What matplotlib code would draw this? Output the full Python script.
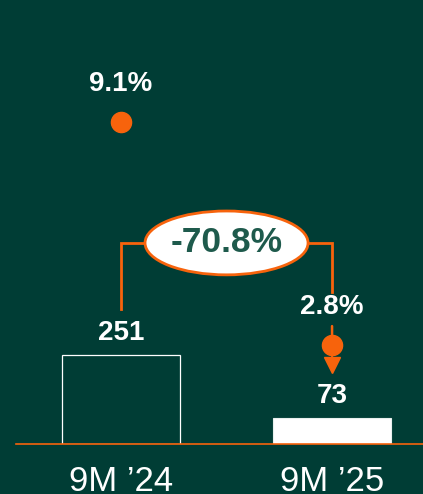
import matplotlib
matplotlib.use("Agg")
import matplotlib.pyplot as plt
from matplotlib.patches import Ellipse
from matplotlib.transforms import offset_copy

# ---- data ----
categories = ["9M \u201924", "9M \u201925"]
values = [251, 73]
margins = [9.1, 2.8]
margin_labels = ["9.1%", "2.8%"]
change_label = "-70.8%"

BG = "#003D35"
ORANGE = "#F7630C"
WHITE = "#FFFFFF"
DARK = "#1E5A4C"
FONT = "Liberation Sans"

W, H = 423, 494
fig = plt.figure(figsize=(W / 100, H / 100), dpi=100, facecolor=BG)
base_px = 444
ax = fig.add_axes([0, (H - base_px) / H, 1, base_px / H])
ax.set_facecolor(BG)
ax2 = ax.twinx()

x = [0, 1]
ax.set_xlim(-0.5735, 1.431)
ax.set_ylim(0, 1252)
ax2.set_ylim(0, 12.54)

for a in (ax, ax2):
    a.axis("off")

# bars
ax.bar(x[0], values[0], width=0.56, facecolor=BG, edgecolor=WHITE, linewidth=0.9, zorder=2)
ax.bar(x[1], values[1], width=0.56, facecolor=WHITE, edgecolor="#E8F0EE", linewidth=0.8, zorder=2)

# baseline
ax.plot([-0.498, 1.431], [0, 0], color=ORANGE, lw=1.2, zorder=3, clip_on=False)

# bar value labels
for xi, v in zip(x, values):
    ax.annotate(str(v), (xi, v), xytext=(0, 16), textcoords="offset points",
                ha="center", va="center", color=WHITE, fontsize=20,
                fontweight="bold", family=FONT)

# category labels
for xi, c in zip(x, categories):
    ax.annotate(c, (xi, 0), xytext=(0, -27), textcoords="offset points",
                ha="center", va="center", color=WHITE, fontsize=25,
                family=FONT)

# margin dots and labels
ax2.plot(x, margins, "o", ms=14.5, color=ORANGE, ls="none", zorder=5)
for xi, m, lab in zip(x, margins, margin_labels):
    ax2.annotate(lab, (xi, m), xytext=(0, 27.5), textcoords="offset points",
                 ha="center", va="center", color=WHITE, fontsize=20,
                 fontweight="bold", family=FONT)

# downward arrow from second dot
ax2.annotate("", xy=(x[1], margins[1]), xytext=(0, 15.5), textcoords="offset points",
             arrowprops=dict(arrowstyle="-", color=ORANGE, lw=1.8), zorder=4)
ax2.annotate("", xy=(x[1], margins[1]), xytext=(0, -10), textcoords="offset points",
             arrowprops=dict(arrowstyle="-", color=ORANGE, lw=1.8), zorder=4)
t_tri = offset_copy(ax2.transData, fig=fig, x=0, y=-14.5, units="points")
ax2.plot([x[1]], [margins[1]], marker="v", ms=12, color=ORANGE, transform=t_tri, zorder=5)

# bracket
bracket_y = 567
left_top = values[0] + 130   # above the 251 label
right_bottom = 430           # above 2.8% label
ell_w, ell_h = 0.7725, 180
ell_cx = 0.5
ax.plot([x[0], x[0], ell_cx - ell_w / 2], [left_top, bracket_y, bracket_y],
        color=ORANGE, lw=2, zorder=3, solid_joinstyle="miter")
ax.plot([ell_cx + ell_w / 2, x[1], x[1]], [bracket_y, bracket_y, right_bottom],
        color=ORANGE, lw=2, zorder=3, solid_joinstyle="miter")
ax.add_patch(Ellipse((ell_cx, bracket_y), ell_w, ell_h, facecolor=WHITE,
                     edgecolor=ORANGE, lw=2, zorder=4))
ax.text(ell_cx, bracket_y, change_label, ha="center", va="center", color=DARK,
        fontsize=25.5, fontweight="bold", family=FONT, zorder=5)

fig.savefig("out.png", dpi=100, facecolor=BG)
